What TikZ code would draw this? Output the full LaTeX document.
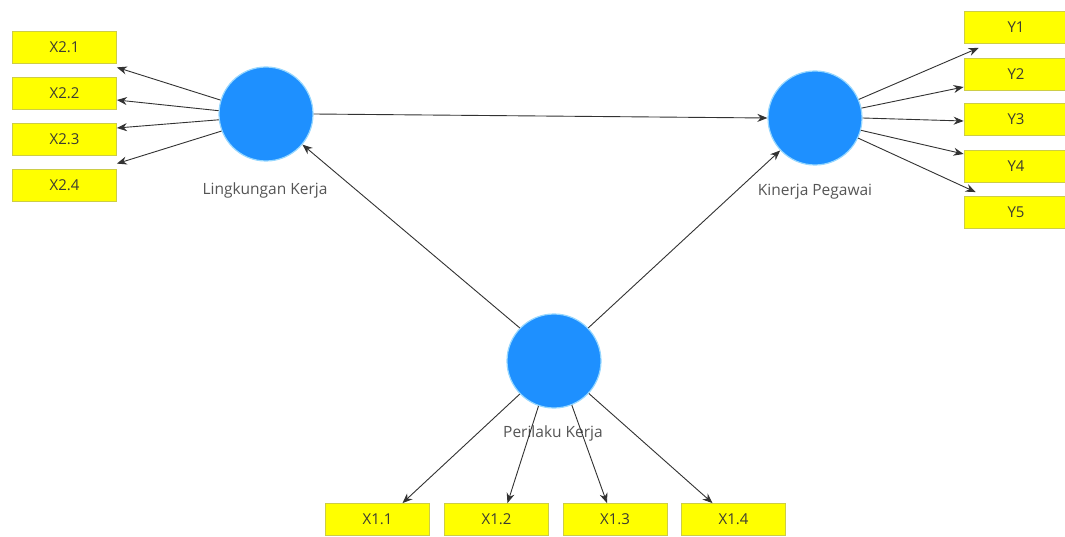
\documentclass[tikz,border=0pt]{standalone}
\usepackage{fontspec}
\setmainfont{Open Sans}
\usetikzlibrary{arrows.meta,calc}
\definecolor{lvblue}{RGB}{30,144,255}
\definecolor{lvglow}{RGB}{150,215,255}
\definecolor{indfill}{RGB}{255,255,0}
\definecolor{indline}{RGB}{205,205,70}
\definecolor{txtdark}{RGB}{60,60,50}
\definecolor{lbl}{RGB}{85,85,85}
\definecolor{edge}{RGB}{50,50,50}
\tikzset{
  latent/.style={circle,fill=lvblue,draw=lvglow,line width=1.2pt,minimum size=94pt,inner sep=0pt},
  indicator/.style={rectangle,fill=indfill,draw=indline,line width=0.8pt,minimum width=104pt,minimum height=32pt,inner sep=0pt,font=\fontsize{15}{17}\selectfont,text=txtdark},
  lvlabel/.style={font=\fontsize{15.5}{17}\selectfont,text=lbl,inner sep=0pt},
  conn/.style={draw=edge,line width=0.9pt,-{Stealth[length=10pt,width=8pt]}}
}
\begin{document}
\begin{tikzpicture}[x=1pt,y=-1pt]
\useasboundingbox (0,0) rectangle (1065,537);
\fill[white] (0,0) rectangle (1065,537);
% latent variables
\node[latent] (lk) at (266,114) {};
\node[latent] (kp) at (815,118) {};
\node[latent] (pk) at (554,361) {};
\node[lvlabel] (lkl) at (265,190) {Lingkungan Kerja};
\node[lvlabel] (kpl) at (815,192) {Kinerja Pegawai};
% indicators left
\node[indicator] (x21) at (64.5,47) {X2.1};
\node[indicator] (x22) at (64.5,93) {X2.2};
\node[indicator] (x23) at (64.5,139) {X2.3};
\node[indicator] (x24) at (64.5,185) {X2.4};
% indicators right
\node[indicator] (y1) at (1016,27.5) {Y1};
\node[indicator] (y2) at (1016,74) {Y2};
\node[indicator] (y3) at (1016,119) {Y3};
\node[indicator] (y4) at (1016,166) {Y4};
\node[indicator] (y5) at (1016,212.5) {Y5};
% indicators bottom
\node[indicator] (x11) at (377.5,519.5) {X1.1};
\node[indicator] (x12) at (496.5,519.5) {X1.2};
\node[indicator] (x13) at (615,519.5) {X1.3};
\node[indicator] (x14) at (733.5,519.5) {X1.4};
\node[lvlabel] (pkl) at (553,433) {Perilaku Kerja};
% structural paths
\draw[conn] (lk.east) -- (kp.west);
\draw[conn] (pk.136) -- (lk.-40);
\draw[conn] (pk.44) -- (kp.-137);
% outer loadings left
\draw[conn] (lk.163) -- ($(x21.south east)+(0,4)$);
\draw[conn] (lk.176) -- ($(x22.east)+(0,7)$);
\draw[conn] (lk.187) -- ($(x23.east)+(0,-11)$);
\draw[conn] (lk.201) -- ($(x24.north east)+(0,-5)$);
% right
\draw[conn] (kp.23) -- ($(y1.south west)+(15,4)$);
\draw[conn] (kp.12) -- ($(y2.west)+(0,13)$);
\draw[conn] (kp.0) -- ($(y3.west)+(0,2)$);
\draw[conn] (kp.-15) -- ($(y4.west)+(0,-12)$);
\draw[conn] (kp.-25) -- ($(y5.north west)+(12,-4)$);
% bottom
\draw[conn] (pk.-136) -- ($(x11.north)+(25,0)$);
\draw[conn] (pk.-109) -- ($(x12.north)+(11,0)$);
\draw[conn] (pk.-68) -- ($(x13.north)+(-8,0)$);
\draw[conn] (pk.-43) -- ($(x14.north)+(-21,0)$);
\end{tikzpicture}
\end{document}
